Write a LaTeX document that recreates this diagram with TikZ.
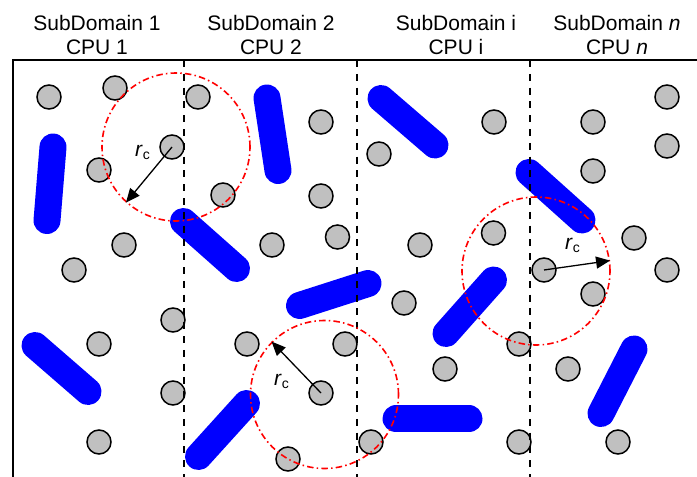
\documentclass[tikz,border=0pt]{standalone}
\usepackage{fontspec}
\setmainfont{Liberation Sans}
\usetikzlibrary{arrows.meta}
\definecolor{pgray}{HTML}{C0C0C0}
\definecolor{rodblue}{HTML}{0000FF}
\tikzset{
  particle/.style={circle, draw=black, line width=1.5pt, fill=pgray, minimum size=24pt, inner sep=0pt},
  rod/.style={line width=27pt, line cap=round, draw=rodblue},
  frameline/.style={line width=1.6pt, draw=black},
  divider/.style={line width=1.7pt, draw=black, dash pattern=on 7pt off 6.8pt},
  cutoff/.style={circle, draw=red, line width=1.6pt, dash pattern=on 6.5pt off 3.2pt on 1.5pt off 3.2pt, minimum size=148pt, inner sep=0pt},
  rarrow/.style={line width=1.3pt, draw=black, -{Triangle[length=14pt,width=12pt]}},
  head/.style={anchor=base, inner sep=0pt, font=\fontsize{21}{24}\selectfont},
  rlab/.style={anchor=base west, inner sep=0pt, font=\fontsize{21}{24}\selectfont}
}
\newcommand{\rclabel}{\textit{r}\raisebox{-3pt}{\fontsize{14}{14}\selectfont c}}
\begin{document}
\begin{tikzpicture}[x=1pt,y=-1pt]
\useasboundingbox (0,0) rectangle (697,477);
% headers
\node[head] (h1a) at (97,30.5) {SubDomain 1};
\node[head] (h1b) at (97,54.5) {CPU 1};
\node[head] (h2a) at (271,30.5) {SubDomain 2};
\node[head] (h2b) at (271,54.5) {CPU 2};
\node[head] (h3a) at (456,30.5) {SubDomain i};
\node[head] (h3b) at (456,54.5) {CPU i};
\node[head] (h4a) at (617,30.5) {SubDomain \textit{n}};
\node[head] (h4b) at (617,54.5) {CPU \textit{n}};
% particles
\foreach \px/\py [count=\i] in {49/97, 115/88, 198/97, 667/97,
  321/122, 494/122, 593/122,
  667/146, 379/154,
  99/170, 593/171,
  223/195, 321/196,
  124/245, 272/245, 337.5/237, 420/245, 493.5/233, 634/238,
  74/270, 667/270,
  593/294, 404/303, 173/320,
  99/344, 247/344, 345/344, 519/344,
  445/369, 568/369,
  173/393,
  99/442, 371/442, 519/442, 618/442,
  288/459}
  \node[particle] (p\i) at (\px,\py) {};
\node[particle] (pA) at (172,147) {};
\node[particle] (pB) at (321,393) {};
\node[particle] (pC) at (544,270) {};
% rods
\draw[rod] (53,147) -- (47,220.5);
\draw[rod] (267,98) -- (278,170.5);
\draw[rod] (183.5,221.5) -- (236.5,268.5);
\draw[rod] (299.5,305.5) -- (368,283.5);
\draw[rod] (35,345.5) -- (88,391.5);
\draw[rod] (198.5,456.5) -- (246.5,403.5);
\draw[rod] (381,98.5) -- (435,145);
\draw[rod] (529,172.5) -- (582,220);
\draw[rod] (446,333.5) -- (493.5,280);
\draw[rod] (396,418.7) -- (469,418.7);
\draw[rod] (601,413.5) -- (634,349);
% frame and dividers
\coordinate (fBL) at (13,477);
\coordinate (fTL) at (13,60);
\coordinate (fTR) at (697,60);
\draw[frameline] (fBL) -- (fTL) -- (fTR);
\foreach \dx [count=\j] in {184.3,357,529.7}{
  \coordinate (dT\j) at (\dx,60);
  \coordinate (dB\j) at (\dx,477);
  \draw[divider] (dT\j) -- (dB\j);
}
% cut-off circles
\node[cutoff] (cA) at (176,147) {};
\node[cutoff] (cB) at (324.5,394.5) {};
\node[cutoff] (cC) at (536,271) {};
% radius arrows
\draw[rarrow] (pA.center) -- (cA.228.3);
\draw[rarrow] (pB.center) -- (cB.135);
\draw[rarrow] (pC.center) -- (cC.8.6);
% labels
\node[rlab] (lA) at (135,156) {\rclabel};
\node[rlab] (lB) at (274,385.5) {\rclabel};
\node[rlab] (lC) at (565,249.5) {\rclabel};
\end{tikzpicture}
\end{document}
